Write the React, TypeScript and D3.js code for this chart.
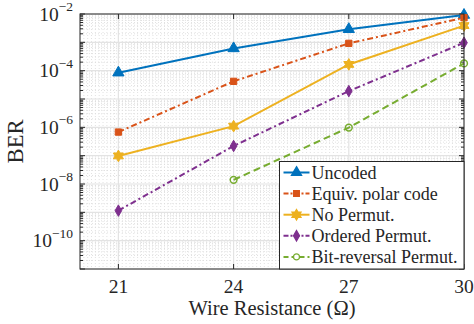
import * as d3 from "d3";

const resistance = [21, 24, 27, 30];
const uncoded = [8.5e-5, 6.1e-4, 2.9e-3, 9.2e-3];
const equivPolar = [6.8e-7, 4.2e-5, 9.2e-4, 7.4e-3];
const noPermut = [9.8e-8, 1.1e-6, 1.66e-4, 3.9e-3];
const orderedPermut = [1.15e-9, 2.2e-7, 1.9e-5, 9.7e-4];
const bitRevResistance = [24, 27, 30];
const bitRevPermut = [1.4e-8, 9.8e-7, 1.8e-4];
const xTicks = [21, 24, 27, 30];
const yLabelExponents = [-2, -4, -6, -8, -10];

const W = 474;
const H = 324;
const margin = { left: 80, right: 10, top: 14, bottom: 55 };
const x = d3.scaleLinear().domain([20, 30]).range([margin.left, W - margin.right]);
const y = d3.scaleLog().domain([1e-11, 1e-2]).range([H - margin.bottom, margin.top]);

// six-pointed star, like matlab's hexagram marker
const hexagram = {
  draw(ctx: any, size: number) {
    const r = Math.sqrt(size) * 0.75;
    const ri = r * 0.58;
    for (let i = 0; i < 12; i++) {
      const a = (i * Math.PI) / 6 - Math.PI / 2;
      const rr = i % 2 === 0 ? r : ri;
      if (i === 0) ctx.moveTo(rr * Math.cos(a), rr * Math.sin(a));
      else ctx.lineTo(rr * Math.cos(a), rr * Math.sin(a));
    }
    ctx.closePath();
  },
};

type Series = {
  name: string;
  xs: number[];
  ys: number[];
  color: string;
  dash: string;
  symbol: any;
  size: number;
  filled: boolean;
};

const series: Series[] = [
  { name: "Uncoded", xs: resistance, ys: uncoded, color: "#0072BD", dash: "", symbol: d3.symbolTriangle, size: 55, filled: true },
  { name: "Equiv. polar code", xs: resistance, ys: equivPolar, color: "#D95319", dash: "6,3,2,3", symbol: d3.symbolSquare, size: 40, filled: true },
  { name: "No Permut.", xs: resistance, ys: noPermut, color: "#EDB120", dash: "", symbol: hexagram, size: 60, filled: true },
  { name: "Ordered Permut.", xs: resistance, ys: orderedPermut, color: "#7E2F8E", dash: "6,3,2,3", symbol: d3.symbolDiamond, size: 38, filled: true },
  { name: "Bit-reversal Permut.", xs: bitRevResistance, ys: bitRevPermut, color: "#77AC30", dash: "7,4", symbol: d3.symbolCircle, size: 36, filled: false },
];

const font = "'Liberation Serif', 'Times New Roman', serif";

export default function App() {
  const [x0, x1] = x.range();
  const [yb, yt] = y.range();

  const majorY = d3.range(-11, -1).map((e) => Math.pow(10, e));
  const minorY: number[] = [];
  for (let e = -11; e < -2; e++) for (let k = 2; k <= 9; k++) minorY.push(k * Math.pow(10, e));
  const minorX = d3.range(201, 300).map((v) => v / 10).filter((v) => !xTicks.includes(v));

  const line = d3
    .line<[number, number]>()
    .x((d) => x(d[0]))
    .y((d) => y(d[1]));

  const lg = { x: 279.5, y: 161.5, w: x1 - 279.5, h: yb - 161.5, row: 21.1 };

  return (
    <svg width={W} height={H} style={{ position: "absolute", left: 0, top: 0, background: "#fff" }} fontFamily={font}>
      <rect x={x0} y={yt} width={x1 - x0} height={yb - yt} fill="#fff" />
      {/* minor grid */}
      <g stroke="#d9d9d9" strokeWidth={0.8} strokeDasharray="1,2">
        {minorY.map((v) => (
          <line key={"my" + v} x1={x0} x2={x1} y1={y(v)} y2={y(v)} />
        ))}
        {minorX.map((v) => (
          <line key={"mx" + v} x1={x(v)} x2={x(v)} y1={yt} y2={yb} />
        ))}
      </g>
      {/* major grid */}
      <g stroke="#e3e3e3" strokeWidth={1.2}>
        {majorY.map((v) => (
          <line key={"gy" + v} x1={x0} x2={x1} y1={y(v)} y2={y(v)} />
        ))}
        {xTicks.map((v) => (
          <line key={"gx" + v} x1={x(v)} x2={x(v)} y1={yt} y2={yb} />
        ))}
      </g>
      {/* ticks */}
      <g stroke="#262626" strokeWidth={1}>
        {majorY.map((v) => (
          <g key={"ty" + v}>
            <line x1={x0} x2={x0 + 5} y1={y(v)} y2={y(v)} />
            <line x1={x1} x2={x1 - 5} y1={y(v)} y2={y(v)} />
          </g>
        ))}
        {minorY.map((v) => (
          <g key={"tmy" + v}>
            <line x1={x0} x2={x0 + 3} y1={y(v)} y2={y(v)} />
            <line x1={x1} x2={x1 - 3} y1={y(v)} y2={y(v)} />
          </g>
        ))}
        {xTicks.map((v) => (
          <g key={"tx" + v}>
            <line x1={x(v)} x2={x(v)} y1={yb} y2={yb - 5} />
            <line x1={x(v)} x2={x(v)} y1={yt} y2={yt + 5} />
          </g>
        ))}
      </g>
      {/* series */}
      {series.map((s) => {
        const pts = s.xs.map((v, i) => [v, s.ys[i]] as [number, number]);
        const sym = d3.symbol().type(s.symbol).size(s.size)();
        return (
          <g key={s.name}>
            <path d={line(pts) || undefined} fill="none" stroke={s.color} strokeWidth={2} strokeDasharray={s.dash || undefined} />
            {pts.map((p, i) => (
              <path
                key={i}
                d={sym || undefined}
                transform={`translate(${x(p[0])},${y(p[1])})`}
                fill={s.filled ? s.color : "none"}
                stroke={s.color}
                strokeWidth={s.filled ? 1 : 1.5}
              />
            ))}
          </g>
        );
      })}
      {/* axes box */}
      <rect x={x0} y={yt} width={x1 - x0} height={yb - yt} fill="none" stroke="#262626" strokeWidth={1} />
      {/* tick labels */}
      <g fill="#262626">
        {xTicks.map((v) => (
          <text key={"lx" + v} x={x(v)} y={yb + 24} textAnchor="middle" fontSize={19.5}>
            {v}
          </text>
        ))}
        {yLabelExponents.map((e) => (
          <text key={"ly" + e} x={x0 - 7} y={y(Math.pow(10, e)) + 6.5} textAnchor="end" fontSize={19.5}>
            10
            <tspan fontSize={13.5} dy={-9.5}>
              {"\u2212" + Math.abs(e)}
            </tspan>
          </text>
        ))}
        <text x={(x0 + x1) / 2} y={315} textAnchor="middle" fontSize={20.5}>
          Wire Resistance (Ω)
        </text>
        <text transform={`translate(23,${(yt + yb) / 2}) rotate(-90)`} textAnchor="middle" fontSize={22.5}>
          BER
        </text>
      </g>
      {/* legend */}
      <g>
        <rect x={lg.x} y={lg.y} width={lg.w} height={lg.h} fill="#fff" stroke="#262626" strokeWidth={1} />
        {series.map((s, i) => {
          const cy = lg.y + 11 + i * lg.row;
          const sym = d3.symbol().type(s.symbol).size(s.size * 0.8)();
          return (
            <g key={"lg" + s.name}>
              <line x1={lg.x + 4} x2={lg.x + 30} y1={cy} y2={cy} stroke={s.color} strokeWidth={2} strokeDasharray={s.dash ? (s.dash === "7,4" ? "5,3" : "5,2,2,2") : undefined} />
              <path d={sym || undefined} transform={`translate(${lg.x + 17},${cy})`} fill={s.filled ? s.color : "#fff"} stroke={s.color} strokeWidth={1.3} />
              <text x={lg.x + 32} y={cy + 6} fontSize={18} fill="#262626">
                {s.name}
              </text>
            </g>
          );
        })}
      </g>
    </svg>
  );
}
